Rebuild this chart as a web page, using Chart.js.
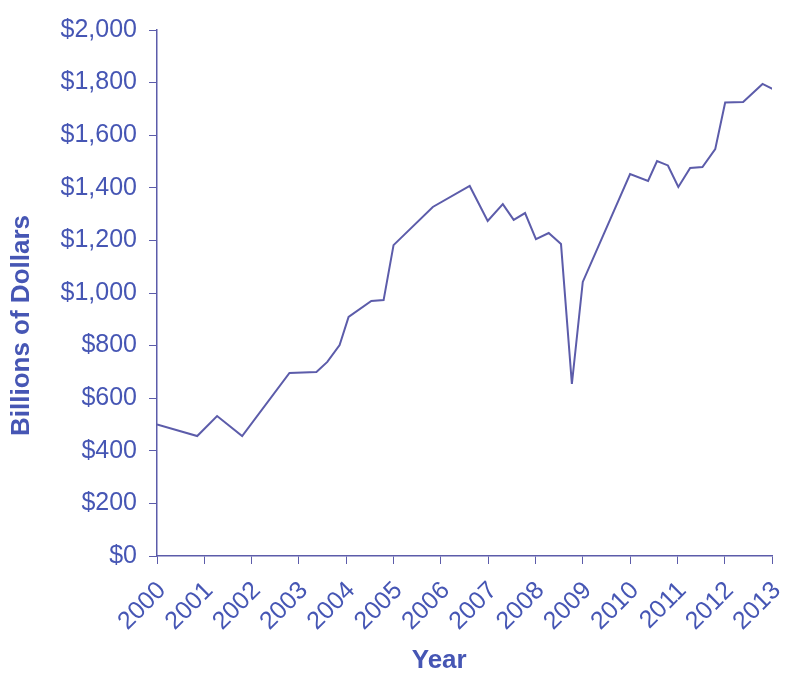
<!DOCTYPE html>
<html>
<head>
<meta charset="utf-8">
<title>Billions of Dollars</title>
<script src="https://cdn.jsdelivr.net/npm/chart.js@4/dist/chart.umd.min.js"></script>
<style>
    html, body { margin: 0; padding: 0; background: #ffffff; }
    #wrap { width: 787px; height: 674px; position: relative; }
</style>
</head>
<body>
<div id="wrap"><canvas id="debtChart"></canvas></div>
<script>
// values (x in decimal years, y in billions)
const years = [2000.0, 2000.85, 2001.27, 2001.8, 2002.8, 2003.37, 2003.6, 2003.86, 2004.05, 2004.53, 2004.79,
    2005.0, 2005.83, 2006.61, 2006.99, 2007.31, 2007.54, 2007.78, 2008.01, 2008.28, 2008.54, 2008.77, 2009.0,
    2010.0, 2010.38, 2010.57, 2010.8, 2011.02, 2011.27, 2011.53, 2011.8, 2012.01, 2012.39, 2012.8, 2013.03];
const billions = [500, 456, 532, 456, 696, 700, 738, 802, 909, 970, 973,
    1182, 1327, 1407, 1274, 1338, 1278, 1304, 1205, 1228, 1186, 654, 1042,
    1452, 1426, 1502, 1485, 1403, 1475, 1479, 1547, 1724, 1726, 1795, 1774];
const yearTicks = [2000, 2001, 2002, 2003, 2004, 2005, 2006, 2007, 2008, 2009, 2010, 2011, 2012, 2013];
const dollarTicks = [0, 200, 400, 600, 800, 1000, 1200, 1400, 1600, 1800, 2000];

const lineColor = '#5c5caa';
const textColor = '#4656b4';
const fontFamily = '"Liberation Sans", Arial, sans-serif';

document.addEventListener('DOMContentLoaded', function () {
    const ctx = document.getElementById('debtChart').getContext('2d');

    new Chart(ctx, {
        type: 'line',
        data: {
            datasets: [
                {
                    data: years.map(function (y, i) { return { x: y, y: billions[i] }; }),
                    borderColor: lineColor,
                    borderWidth: 2,
                    pointRadius: 0,
                    tension: 0,
                    fill: false
                }
            ]
        },
        options: {
            responsive: true,
            maintainAspectRatio: false,
            animation: false,
            layout: {
                padding: { top: 30, right: 15, left: 0, bottom: 0 }
            },
            plugins: {
                legend: { display: false },
                tooltip: { enabled: false }
            },
            scales: {
                x: {
                    type: 'linear',
                    min: 2000,
                    max: 2013,
                    afterBuildTicks: function (scale) {
                        scale.ticks = yearTicks.map(function (v) { return { value: v }; });
                    },
                    afterFit: function (scale) {
                        scale.height = 118;
                        // labels may run past the edges, like the original
                        scale.paddingLeft = 0;
                        scale.paddingRight = 0;
                    },
                    ticks: {
                        color: textColor,
                        font: { family: fontFamily, size: 25 },
                        minRotation: 45,
                        maxRotation: 45,
                        padding: 12,
                        labelOffset: 5,
                        autoSkip: false,
                        callback: function (v) { return String(v); }
                    },
                    grid: {
                        drawOnChartArea: false,
                        color: lineColor,
                        tickLength: 8
                    },
                    border: { color: lineColor, width: 1.5 },
                    title: {
                        display: true,
                        // trailing spaces pull the word left of the axis centre, as in the original
                        text: 'Year       ',
                        color: textColor,
                        font: { family: fontFamily, size: 26, weight: 'bold', lineHeight: 1 },
                        padding: { top: 0, bottom: 0 }
                    }
                },
                y: {
                    min: 0,
                    max: 2000,
                    afterBuildTicks: function (scale) {
                        scale.ticks = dollarTicks.map(function (v) { return { value: v }; });
                    },
                    afterFit: function (scale) { scale.width = 157; },
                    ticks: {
                        color: textColor,
                        font: { family: fontFamily, size: 25 },
                        padding: 12,
                        callback: function (v) { return '$' + v.toLocaleString('en-US'); }
                    },
                    grid: {
                        drawOnChartArea: false,
                        color: lineColor,
                        tickLength: 8
                    },
                    border: { color: lineColor, width: 1.5 },
                    title: {
                        display: true,
                        // trailing spaces push the label below the axis centre
                        text: 'Billions of Dollars         ',
                        color: textColor,
                        font: { family: fontFamily, size: 26, weight: 'bold' },
                        padding: { top: 6, bottom: 0 }
                    }
                }
            }
        }
    });
});
</script>
</body>
</html>
